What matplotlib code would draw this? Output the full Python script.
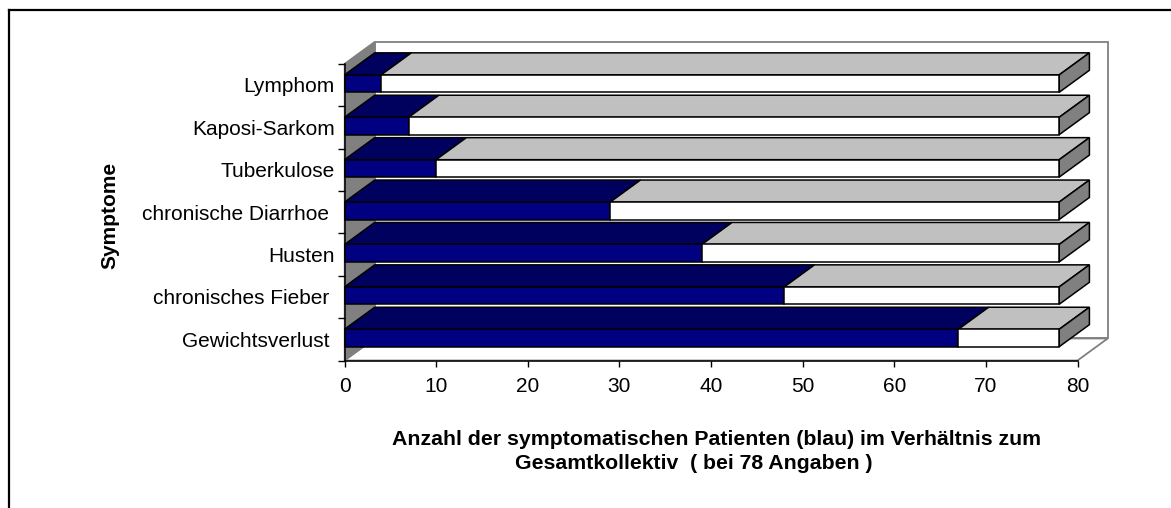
import matplotlib
matplotlib.use("Agg")
import matplotlib.pyplot as plt
from matplotlib.lines import Line2D

plt.rcParams['font.family'] = ['Liberation Sans', 'DejaVu Sans']

# ---- data ----
categories = ["Gewichtsverlust ", "chronisches Fieber ", "Husten",
              "chronische Diarrhoe ", "Tuberkulose", "Kaposi-Sarkom", "Lymphom"]
symptomatic = [67, 48, 39, 29, 10, 7, 4]
total = [78, 78, 78, 78, 78, 78, 78]
x_ticks = [0, 10, 20, 30, 40, 50, 60, 70, 80]
x_label_lines = ["Anzahl der symptomatischen Patienten (blau) im Verhältnis zum",
                 "Gesamtkollektiv  ( bei 78 Angaben )"]
y_label = "Symptome"

# ---- styling / geometry ----
W, H, DPI = 1171, 508, 100
XMAX = 80
DX, DY = 3.3, 0.52          # depth offset in data units
BAR_LO, BAR_HI = 0.325, 0.736
BLUE_FRONT, BLUE_TOP = '#000080', '#00005E'
GRAY_FRONT, GRAY_TOP, GRAY_SIDE = '#FFFFFF', '#C0C0C0', '#808080'
WALL = '#808080'
FS = 15

fig = plt.figure(figsize=(W / DPI, H / DPI), dpi=DPI)
ax = fig.add_axes([0, 0, 1, 1])
px_x = 9.1625
px_y = 42.4
x0_px, y0_px = 344.5, 360.5
ax.set_xlim(-x0_px / px_x, (W - x0_px) / px_x)
ax.set_ylim(-(H - y0_px) / px_y, y0_px / px_y)
ax.patch.set_visible(False)

n = len(categories)

# walls and floor
ax.fill([DX, XMAX + DX, XMAX + DX, DX], [DY, DY, n + DY, n + DY],
        facecolor='white', edgecolor=WALL, lw=1.3, zorder=1)
ax.fill([0, XMAX, XMAX + DX, DX], [0, 0, DY, DY],
        facecolor='white', edgecolor=WALL, lw=1.3, zorder=1)
ax.fill([0, DX, DX, 0], [0, DY, n + DY, n], facecolor=WALL,
        edgecolor=WALL, lw=1.0, zorder=1.1)

# bars (top category first, lower ones in front)
z = 2
for i in range(n - 1, -1, -1):
    y0, y1 = i + BAR_LO, i + BAR_HI
    segs = [(0, symptomatic[i], BLUE_FRONT, BLUE_TOP),
            (symptomatic[i], total[i], GRAY_FRONT, GRAY_TOP)]
    for a, b, fc, tc in segs:
        ax.fill([a, b, b + DX, a + DX], [y1, y1, y1 + DY, y1 + DY],
                facecolor=tc, edgecolor='black', lw=1.1, zorder=z)
    b = total[i]
    ax.fill([b, b + DX, b + DX, b], [y0, y0 + DY, y1 + DY, y1],
            facecolor=GRAY_SIDE, edgecolor='black', lw=1.1, zorder=z)
    for a, b, fc, tc in segs:
        ax.fill([a, b, b, a], [y0, y0, y1, y1],
                facecolor=fc, edgecolor='black', lw=1.1, zorder=z + 0.5)
    z += 1

# axes spines
for s in ['top', 'right']:
    ax.spines[s].set_visible(False)
ax.spines['left'].set_position(('data', 0))
ax.spines['bottom'].set_position(('data', 0))
ax.spines['left'].set_bounds(0, n)
ax.spines['bottom'].set_bounds(0, XMAX)
for s in ['left', 'bottom']:
    ax.spines[s].set_linewidth(1.1)
    ax.spines[s].set_zorder(50)

ax.set_xticks(x_ticks)
ax.set_xticklabels([str(t) for t in x_ticks], fontsize=FS)
ax.tick_params(axis='x', direction='out', length=4.5, width=1.0, pad=7.5)
ax.set_yticks(range(n + 1))
ax.set_yticklabels([])
ax.set_yticks([i + 0.5 for i in range(n)], minor=True)
ax.set_yticklabels(categories, minor=True, fontsize=FS)
ax.tick_params(axis='y', which='major', direction='out', length=5, width=1.0)
ax.tick_params(axis='y', which='minor', length=0, pad=7)

# axis titles
fig.text(716.7 / W, 1 - 445 / H, x_label_lines[0], ha='center', va='baseline',
         fontsize=15.3, fontweight='bold')
fig.text(694.2 / W, 1 - 469 / H, x_label_lines[1], ha='center', va='baseline',
         fontsize=15.3, fontweight='bold')
fig.text(110 / W, 1 - 215 / H, y_label, rotation=90, ha='center', va='center',
         fontsize=FS, fontweight='bold')

# outer frame (clipped by figure edge)
fig.add_artist(Line2D([9 / W, 9 / W], [0, 1 - 10 / H], color='black', lw=1.6,
                      transform=fig.transFigure))
fig.add_artist(Line2D([9 / W, 1], [1 - 10 / H, 1 - 10 / H], color='black', lw=1.6,
                      transform=fig.transFigure))

fig.savefig('out.png', dpi=DPI)
